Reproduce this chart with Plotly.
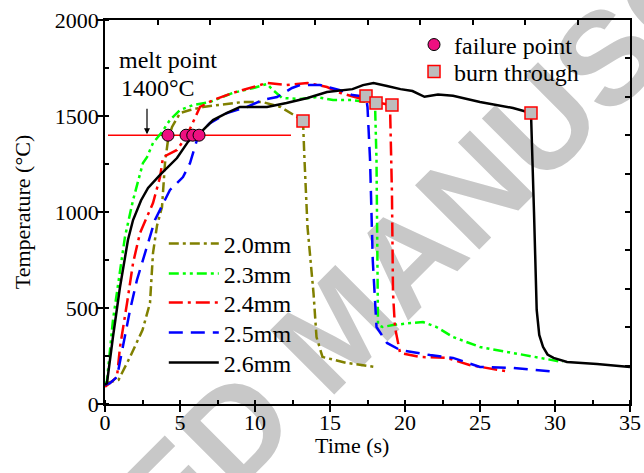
import plotly.graph_objects as go

# ---------------- data ----------------
t_20 = [0, 0.13, 0.9, 1.67, 2.5, 3.0, 3.2, 3.47, 3.8, 4.0, 4.2, 4.47, 5.0, 5.67, 6.53, 7.0, 8.0, 9.2,
        10.5, 11.7, 12.8, 13.2, 13.3, 13.5, 13.9, 14.1, 14.5, 16.1, 18.0]
T_20 = [100, 110, 125, 245, 385, 526, 786, 930, 1026, 1255, 1375, 1443, 1515, 1531, 1547, 1552, 1560, 1573,
        1573, 1547, 1495, 1474, 1271, 922, 578, 349, 245, 214, 193]

t_23 = [0, 0.13, 0.53, 1.0, 1.33, 1.87, 2.53, 2.8, 3.2, 3.8, 4.33, 5.0, 5.87, 7.0, 8.5, 9.9, 10.8, 11.2,
        11.8, 13.0, 14.1, 15.2, 16.5, 17.4, 18.0, 18.1, 18.15, 18.2, 18.5, 19.2, 20.2, 21.2, 22.1, 23.2,
        25.0, 27.2, 29.5, 30.5]
T_23 = [100, 120, 437, 698, 870, 1062, 1255, 1286, 1359, 1417, 1479, 1531, 1557, 1573, 1620, 1646, 1667, 1635,
        1594, 1588, 1599, 1583, 1583, 1573, 1568, 1271, 750, 411, 401, 411, 420, 427, 401, 349,
        297, 266, 234, 219]

t_24 = [0, 0.33, 0.8, 1.0, 1.47, 1.87, 2.33, 3.2, 3.67, 3.87, 4.8, 5.47, 6.33, 7.2, 8.5, 9.9, 10.8, 12.1,
        13.5, 14.8, 15.7, 17.4, 19.0, 19.13, 19.2, 19.33, 19.67, 21.0, 22.8, 24.3, 27.0]
T_24 = [90, 109, 141, 297, 526, 734, 890, 1047, 1182, 1286, 1323, 1400, 1547, 1583, 1620, 1651, 1672, 1661,
        1672, 1651, 1620, 1583, 1557, 1099, 578, 401, 266, 245, 240, 203, 167]

t_25 = [0, 0.33, 0.8, 1.2, 1.67, 2.13, 2.8, 3.33, 4.33, 5.2, 5.67, 6.13, 6.33, 7.0, 8.13, 9.47, 10.5, 11.47,
        12.47, 13.0, 14.33, 15.67, 16.5, 17.4, 17.5, 17.67, 17.85, 18.1, 18.8, 19.67, 21.67, 23.2, 25.0,
        27.2, 30.1]
T_25 = [100, 109, 141, 297, 490, 646, 818, 958, 1115, 1182, 1255, 1375, 1411, 1463, 1515, 1547, 1583, 1599,
        1646, 1661, 1661, 1635, 1609, 1600, 1547, 1271, 750, 401, 318, 281, 255, 240, 193,
        188, 167]

t_26 = [0, 0.13, 0.53, 1.0, 1.53, 1.87, 2.4, 2.87, 3.67, 4.8, 5.53, 5.9, 6.33, 7.2, 8.1, 9.0, 9.9, 10.8,
        12.1, 13.5, 14.8, 15.7, 16.5, 17.2, 17.9, 18.8, 19.7, 20.5, 21.3, 22.2, 23.2, 25.0, 27.2, 28.4,
        28.5, 28.6, 28.78, 28.95, 29.2, 29.5, 29.9, 30.8, 32.8, 35]
T_26 = [100, 109, 349, 609, 854, 958, 1060, 1125, 1193, 1281, 1365, 1396, 1411, 1479, 1515, 1547, 1547, 1547,
        1568, 1594, 1625, 1635, 1640, 1661, 1672, 1656, 1640, 1630, 1600, 1612, 1605, 1573, 1542, 1516,
        1300, 1000, 490, 360, 298, 258, 240, 219, 208, 193]

fail_t = [4.2, 5.4, 5.85, 6.27]
fail_T = [1400, 1400, 1400, 1400]

burn_t = [13.2, 17.4, 18.07, 19.13, 28.4]
burn_T = [1474, 1604, 1568, 1557, 1516]

melt_t = [0.2, 12.4]
melt_T = [1400, 1400]

series = [
    ("2.0mm", t_20, T_20, "#808000", "10px,4px,3px,4px"),
    ("2.3mm", t_23, T_23, "#00ff00", "10px,4px,3px,4px,3px,4px"),
    ("2.4mm", t_24, T_24, "#ff0000", "14px,5px,3px,5px"),
    ("2.5mm", t_25, T_25, "#0000ff", "14px,8px"),
    ("2.6mm", t_26, T_26, "#000000", "solid"),
]

FONT = "Liberation Serif"
LEG_FONT = 24

fig = go.Figure()

fig.add_trace(go.Scatter(x=melt_t, y=melt_T, mode="lines", showlegend=False,
                         line=dict(color="#ff0000", width=1.5), hoverinfo="skip"))

# each line-legend entry gets its own legend box so the rows can be placed like the reference
line_rows_y = [0.4167, 0.3385, 0.2630, 0.1849, 0.1068]
for i, (name, tx, ty, col, dash) in enumerate(series):
    fig.add_trace(go.Scatter(x=tx, y=ty, mode="lines", name=name, legend=f"legend{i + 3}",
                             line=dict(color=col, width=2.5, dash=dash)))

fig.add_trace(go.Scatter(x=fail_t, y=fail_T, mode="markers", name="failure point", legend="legend",
                         marker=dict(symbol="circle", size=12, color="#ee1080",
                                     line=dict(color="#000000", width=1))))
fig.add_trace(go.Scatter(x=burn_t, y=burn_T, mode="markers", name="burn through", legend="legend2",
                         marker=dict(symbol="square", size=12, color="#bdbdbd",
                                     line=dict(color="#ff0000", width=1.5))))

# dummy trace so the mirrored top/right axes are drawn
fig.add_trace(go.Scatter(x=[None], y=[None], xaxis="x2", yaxis="y2", showlegend=False))

axis_common = dict(showgrid=False, zeroline=False, showline=True, linecolor="black", linewidth=1.5,
                   tickcolor="black", tickwidth=1.5, automargin=False)

legends = {}
legends["legend"] = dict(x=0.5886, y=0.935, xanchor="left", yanchor="middle",
                         bgcolor="rgba(0,0,0,0)", font=dict(family=FONT, size=LEG_FONT))
legends["legend2"] = dict(x=0.5886, y=0.8646, xanchor="left", yanchor="middle",
                          bgcolor="rgba(0,0,0,0)", font=dict(family=FONT, size=LEG_FONT))
for i, yy in enumerate(line_rows_y):
    legends[f"legend{i + 3}"] = dict(x=0.112, y=yy, xanchor="left", yanchor="middle",
                                     bgcolor="rgba(0,0,0,0)", itemwidth=50,
                                     font=dict(family=FONT, size=LEG_FONT))

fig.update_layout(
    width=644, height=473,
    margin=dict(l=105, r=14, t=20, b=69),
    paper_bgcolor="white", plot_bgcolor="rgba(0,0,0,0)",
    font=dict(family=FONT, size=22, color="black"),
    xaxis=dict(range=[0, 35], tick0=0, dtick=5, ticks="outside", ticklen=6, ticklabelstandoff=-8,
               minor=dict(dtick=2.5, ticks="inside", ticklen=4, tickwidth=1.5, tickcolor="black"),
               tickfont=dict(size=22), **axis_common),
    yaxis=dict(range=[0, 2000], tick0=0, dtick=500, ticks="outside", ticklen=6, ticklabelstandoff=-6,
               minor=dict(dtick=250, ticks="inside", ticklen=4, tickwidth=1.5, tickcolor="black"),
               title=dict(text="Temperature (°C)", standoff=18, font=dict(size=22)),
               tickfont=dict(size=22), **axis_common),
    xaxis2=dict(overlaying="x", side="top", anchor="y", range=[0, 35], tick0=0, dtick=3.5,
                ticks="inside", ticklen=5, showticklabels=False, **axis_common),
    yaxis2=dict(overlaying="y", side="right", anchor="x", range=[0, 2000], tick0=0, dtick=200,
                ticks="inside", ticklen=5, showticklabels=False, **axis_common),
    showlegend=True,
    **legends,
)

# x-axis title
fig.add_annotation(x=0.4714, y=-0.109, xref="paper", yref="paper", text="Time (s)", showarrow=False,
                   xanchor="center", yanchor="middle", font=dict(family=FONT, size=22))

fig.add_annotation(x=0.8, y=1791, xref="x", yref="y", text="melt point", showarrow=False,
                   xanchor="left", yanchor="middle", font=dict(family=FONT, size=24))
fig.add_annotation(x=0.95, y=1646, xref="x", yref="y", text="1400°C", showarrow=False,
                   xanchor="left", yanchor="middle", font=dict(family=FONT, size=24))
fig.add_annotation(x=2.8, y=1405, xref="x", yref="y", text="", showarrow=True,
                   ax=0, ay=-27, arrowhead=2, arrowsize=1, arrowwidth=1.2, arrowcolor="black")

# watermark
fig.add_shape(type="line", xref="paper", yref="paper", x0=0.2343, y0=-0.0365, x1=0.6152, y1=0.4843,
              line=dict(color="rgba(0,0,0,0)", width=0), layer="below",
              label=dict(text="<b>ACCEPTED MANUSCRIPT</b>", textangle=-45, textposition="middle",
                         xanchor="center", yanchor="middle",
                         font=dict(family="Liberation Sans", size=132, color="#c8c8c8")))

fig.write_html("out.html")
